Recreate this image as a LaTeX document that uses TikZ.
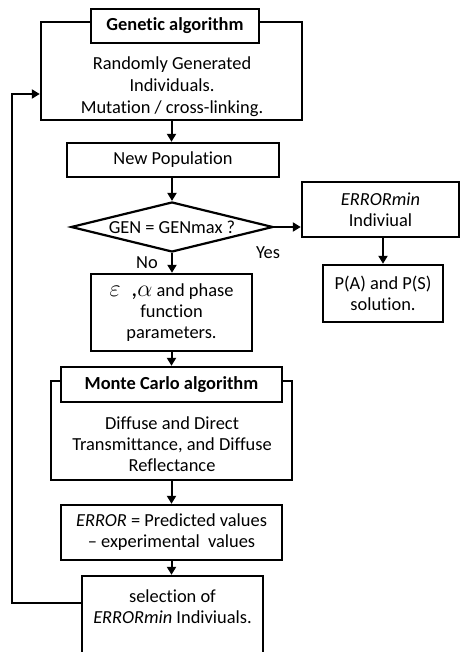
\documentclass[tikz,border=0pt]{standalone}
\usepackage{fontspec}
\setmainfont[Ligatures=NoCommon]{Carlito}
\usetikzlibrary{arrows.meta,shapes.geometric}
\tikzset{
  box/.style={draw,line width=1.2pt,inner sep=0pt,align=center},
  head/.style={box,fill=white,font=\fontsize{9.2}{10.5}\selectfont\bfseries},
  decision/.style={diamond,draw,line width=1.1pt,aspect=4,inner sep=0pt},
  every node/.style={font=\fontsize{9.2}{10.5}\selectfont}
}
\tikzstyle{arrow} = [line width=1pt,-{Triangle[length=4pt,width=4.5pt]}]

\begin{document}
\begin{tikzpicture}[x=0.5pt,y=-0.5pt]
  \useasboundingbox (0,0) rectangle (462,652);
  \clip (0,0) rectangle (462,652);
  % genetic algorithm block
  \node[box,minimum width=130.5pt,minimum height=49pt] (ga) at (171.5,71) {};
  \node[head,minimum width=84pt,minimum height=17pt] (gatitle) at (175,26) {Genetic algorithm};
  \node[align=center,font=\fontsize{9.2}{11}\selectfont] (gatext) at (172,87)
    {Randomly Generated\\Individuals.\\Mutation / cross-linking.};
  \node[box,minimum width=106pt,minimum height=17pt] (newpop) at (173,160) {New Population};
  \node[decision,minimum width=101pt,minimum height=25pt] (gen) at (172,227) {GEN = GENmax ?};
  \node[box,minimum width=78.5pt,minimum height=27.5pt] (errmin) at (380.5,209.5)
    {\textit{ERRORmin}\\Indiviual};
  \node[box,minimum width=60pt,minimum height=28.5pt] (pas) at (383,293.5)
    {P(A) and P(S)\\solution.};
  \node[box,minimum width=80.5pt,minimum height=38.5pt] (param) at (171.5,312.5)
    {{\large$\varepsilon$\ \ ,$\alpha$} and\ phase\\function\\parameters.};
  % monte carlo block
  \node[box,minimum width=120.5pt,minimum height=49.5pt] (mc) at (171.5,430.5) {};
  \node[head,minimum width=110.5pt,minimum height=17.5pt] (mctitle) at (171.5,384.5) {Monte Carlo algorithm};
  \node[align=center] (mctext) at (172,444)
    {Diffuse and Direct\\Transmittance, and Diffuse\\Reflectance};
  \node[box,minimum width=110.5pt,minimum height=27.5pt] (err) at (171.5,532.5)
    {\textit{ERROR} = Predicted values\\-- experimental\ \ values};
  \node[box,minimum width=90.5pt,minimum height=104pt] (sel) at (172.5,680) {};
  \node[align=center] (seltext) at (172.5,607) {selection of\\\textit{ERRORmin} Indiviuals.};
  \node (yeslbl) at (268,253) {Yes};
  \node (nolbl) at (147,263) {No};
  % connectors
  \draw[arrow] (ga.south) -- (ga.south |- newpop.north);
  \draw[arrow] (newpop.south -| gen.north) -- (gen.north);
  \draw[arrow] (gen.east) -- (gen.east -| errmin.west);
  \draw[arrow] (pas.north |- errmin.south) -- (pas.north);
  \draw[arrow] (gen.south) -- (gen.south |- param.north);
  \draw[arrow] (param.south -| mctitle.north) -- (mctitle.north);
  \draw[arrow] (mc.south) -- (mc.south |- err.north);
  \draw[arrow] (err.south) -- (err.south |- sel.north);
  \coordinate (fbl) at (12,603);
  \coordinate (fbt) at (12,94);
  \draw[arrow] (fbl -| sel.west) -- (fbl) -- (fbt) -- (fbt -| ga.west);
\end{tikzpicture}
\end{document}
